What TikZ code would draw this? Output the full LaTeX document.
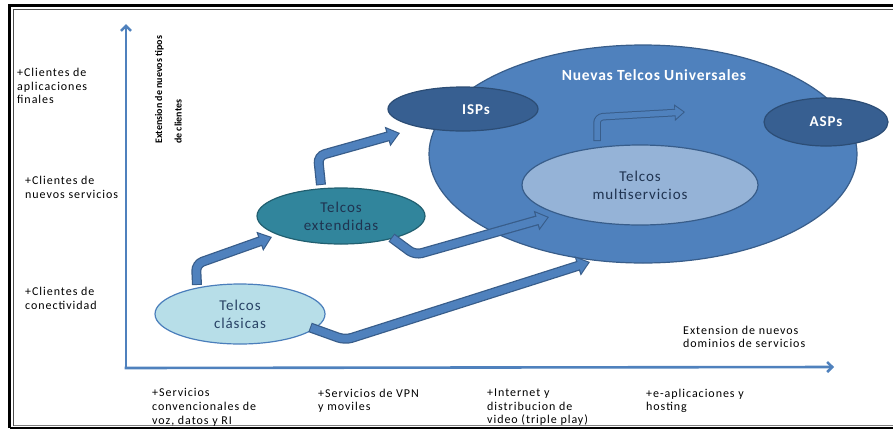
\documentclass[tikz,border=0pt]{standalone}
\usepackage{fontspec}
\setmainfont{Carlito}
\usetikzlibrary{arrows.meta,shapes.geometric}
\definecolor{axisblue}{HTML}{4F81BD}
\definecolor{edgeblue}{HTML}{385D8A}
\definecolor{darkfill}{HTML}{375F91}
\definecolor{darkedge}{HTML}{2C4D75}
\definecolor{multifill}{HTML}{95B3D7}
\definecolor{extfill}{HTML}{31859C}
\definecolor{extedge}{HTML}{215F70}
\definecolor{clasfill}{HTML}{B7DEE8}
\definecolor{clasedge}{HTML}{4A7EBB}
\definecolor{navytext}{HTML}{1F3350}
\newcommand{\spaced}[1]{\addfontfeatures{LetterSpace=#1}}
\tikzset{
  ell/.style={ellipse, inner sep=0pt, outer sep=0pt, line width=1.2pt, align=center},
  axislabel/.style={font=\fontsize{12}{13.7}\selectfont\spaced{8}, align=left, anchor=north west, inner sep=0pt, text=black},
  ellipsetext/.style={font=\fontsize{15}{18}\selectfont\spaced{6}},
  blockarrow/.style={line width=7.5pt, draw=axisblue, line join=round, rounded corners=7pt,
     shorten >=1.8pt, shorten <=1pt,
     -{Triangle[length=10pt,width=15pt]},
     preaction={draw=edgeblue, line width=10pt, shorten >=0pt, shorten <=0pt, -{Triangle[length=13pt,width=19.5pt]}}},
  hollowarrow/.style={line width=5.5pt, draw=axisblue, line join=round, rounded corners=6pt,
     shorten >=1.6pt, shorten <=1pt,
     -{Triangle[length=8pt,width=12pt]},
     preaction={draw=edgeblue, line width=7.5pt, shorten >=0pt, shorten <=0pt, -{Triangle[length=10.5pt,width=16pt]}}},
  axisline/.style={draw=axisblue, line width=2.6pt, -{Straight Barb[length=5pt,width=10pt]}}
}
\begin{document}
\begin{tikzpicture}[x=1pt,y=-1pt]
\useasboundingbox (0,0) rectangle (893,429);
% frame
\draw[line width=2.2pt, black] (9.5,428) -- (9.5,5.5) -- (900,5.5);
\draw[line width=2.2pt, black] (9.5,428) -- (900,428);
\draw[line width=1pt, black!70] (13.5,425.5) -- (13.5,9.5) -- (900,9.5);
\draw[line width=1pt, black!50] (13.5,425.5) -- (900,425.5);

% axes
\coordinate (origin) at (126,368);
\coordinate (ytop) at (126,24);
\coordinate (xend) at (834,367);
\draw[axisline] (origin) -- (ytop);
\draw[axisline] ([xshift=-1.3pt]origin) -- (xend);

% left labels
\node[axislabel] (l1) at (17,68) {+Clientes de\\aplicaciones\\finales};
\node[axislabel] (l2) at (25,176) {+Clientes de\\nuevos servicios};
\node[axislabel] (l3) at (25,287) {+Clientes de\\conectividad};

% vertical axis title
\node[font=\bfseries\fontsize{10}{19.5}\selectfont, rotate=90, anchor=north west, align=left, inner sep=0pt] (ytitle) at (155,144) {Extension de nuevos tipos\\de clientes};

% bottom labels
\node[axislabel] (b1) at (152,388.5) {+Servicios\\convencionales de\\voz, datos y RI};
\node[axislabel] (b2) at (318,388.5) {+Servicios de VPN\\y moviles};
\node[axislabel] (b3) at (487,388.5) {+Internet y\\distribucion de\\video (triple play)};
\node[axislabel] (b4) at (646,388.5) {+e-aplicaciones y\\hosting};
\node[axislabel] (xtitle) at (683,325.5) {Extension de nuevos\\dominios de servicios};

% big ellipse
\node[ell, draw=edgeblue, fill=axisblue, minimum width=428pt, minimum height=218pt] (nuevas) at (643,154) {};
\node[font=\bfseries\fontsize{15.5}{18}\selectfont\spaced{5}, text=white, inner sep=0pt] (nuevaslbl) at (654,75) {Nuevas Telcos Universales};
\node[ell, draw=darkedge, fill=darkfill, minimum width=150pt, minimum height=44pt] (isps) at (463,109) {};
\node[text=white, font=\bfseries\fontsize{15}{18}\selectfont\spaced{6}, inner sep=0pt] (ispslbl) at (476,110) {ISPs};
\node[ell, draw=darkedge, fill=darkfill, minimum width=124pt, minimum height=48pt, text=white, font=\bfseries\fontsize{15}{18}\selectfont\spaced{6}] (asps) at (826,122) {ASPs};
\node[ell, draw=edgeblue, fill=multifill, minimum width=236pt, minimum height=80pt, text=navytext, ellipsetext] (multi) at (640,185) {Telcos\\multiservicios};

% other ellipses
\node[ell, draw=extedge, fill=extfill, minimum width=168pt, minimum height=56pt, text=navytext, ellipsetext] (ext) at (341,216) {Telcos\\extendidas};
\node[ell, draw=clasedge, fill=clasfill, minimum width=170pt, minimum height=60pt, text=navytext!80!clasedge, ellipsetext] (clas) at (240,314) {Telcos\\clásicas};

% arrows
\coordinate (b1c) at (196,264);
\coordinate (t1) at (272,237);
\draw[blockarrow] ([xshift=-43pt,yshift=-1pt]clas.north) -- (b1c) -- (t1);

\coordinate (b2c) at (318,156);
\coordinate (t2) at (400,133);
\draw[blockarrow] ([xshift=-20pt,yshift=3pt]ext.north) -- (b2c) -- (t2);

\coordinate (b3c) at (415,255);
\coordinate (t3) at (549,217);
\draw[blockarrow] ([xshift=-3pt]ext.-22) -- (b3c) -- (t3);

\coordinate (b4c) at (345,340);
\coordinate (t4) at (590,262);
\draw[blockarrow] ([xshift=-6pt]clas.-10) -- (b4c) -- (t4);

\coordinate (b5c) at (597,117);
\coordinate (t5) at (685,112);
\draw[hollowarrow] ([xshift=-43pt,yshift=4pt]multi.north) -- (b5c) -- (t5);
\end{tikzpicture}
\end{document}
